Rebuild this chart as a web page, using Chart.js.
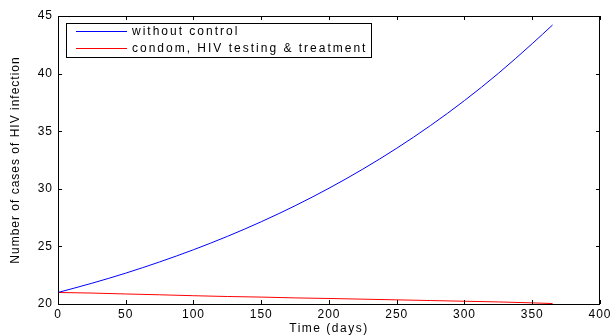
<!DOCTYPE html>
<html>
<head>
<meta charset="utf-8">
<script src="https://cdn.jsdelivr.net/npm/chart.js@4.4.1/dist/chart.umd.min.js"></script>
<style>
  html, body { margin: 0; padding: 0; background: #fff; }
  #wrap { width: 613px; height: 335px; }
</style>
</head>
<body>
<div id="wrap"><canvas id="hivChart" width="613" height="335"></canvas></div>
<script>
// time axis (days) and the two simulated trajectories
const days = [0, 25, 50, 75, 100, 125, 150, 175, 200, 225, 250, 275, 300, 325, 350, 365];
const withoutControl = [21.0, 21.8, 22.68, 23.65, 24.71, 25.87, 27.14, 28.53, 30.05, 31.71, 33.52, 35.5, 37.66, 40.02, 42.6, 44.22];
const withControl = [21.0, 20.95, 20.87, 20.8, 20.72, 20.65, 20.6, 20.53, 20.48, 20.42, 20.36, 20.3, 20.24, 20.18, 20.1, 20.04];

const xTickValues = [0, 50, 100, 150, 200, 250, 300, 350, 400];
const yTickValues = [20, 25, 30, 35, 40, 45];

const seriesLabels = ['without control', 'condom, HIV testing & treatment'];
const seriesColors = ['#0000ff', '#ff0000'];

const FONT = "'Liberation Sans', Arial, Helvetica, sans-serif";

function toPoints(ys) {
    return days.map((d, i) => ({ x: d, y: ys[i] }));
}

// box frame, inward tick marks, axis titles and the boxed legend (matlab look)
const matlabFrame = {
    id: 'matlabFrame',
    beforeDraw(chart) {
        chart.ctx.letterSpacing = '1px';
    },
    afterDraw(chart) {
        const ctx = chart.ctx;
        const a = chart.chartArea;
        const xs = chart.scales.x;
        const ys = chart.scales.y;
        ctx.save();
        ctx.strokeStyle = '#000';
        ctx.lineWidth = 1;
        ctx.strokeRect(a.left + 0.5, a.top + 0.5, a.right - a.left - 1, a.bottom - a.top);

        ctx.beginPath();
        xTickValues.forEach(v => {
            const px = Math.round(xs.getPixelForValue(v)) + 0.5;
            ctx.moveTo(px, a.bottom); ctx.lineTo(px, a.bottom - 4);
            ctx.moveTo(px, a.top); ctx.lineTo(px, a.top + 4);
        });
        yTickValues.forEach(v => {
            const py = Math.round(ys.getPixelForValue(v)) + 0.5;
            ctx.moveTo(a.left, py); ctx.lineTo(a.left + 4, py);
            ctx.moveTo(a.right, py); ctx.lineTo(a.right - 4, py);
        });
        ctx.stroke();

        // axis titles
        ctx.fillStyle = '#000';
        ctx.font = '12px ' + FONT;
        ctx.letterSpacing = '1.5px';
        ctx.textAlign = 'center';
        ctx.textBaseline = 'alphabetic';
        ctx.fillText('Time (days)', (a.left + a.right) / 2, 332);

        ctx.save();
        ctx.letterSpacing = '1px';
        ctx.translate(16, (a.top + a.bottom) / 2);
        ctx.rotate(-Math.PI / 2);
        ctx.textBaseline = 'middle';
        ctx.fillText('Number of cases of HIV infection', 0, 0);
        ctx.restore();

        // legend
        ctx.letterSpacing = '2px';
        ctx.font = '12px ' + FONT;
        const boxL = a.left + 8, boxT = a.top + 7;
        const textX = boxL + 66;
        let maxW = 0;
        seriesLabels.forEach(t => { maxW = Math.max(maxW, ctx.measureText(t).width); });
        const boxW = textX + maxW + 4 - boxL, boxH = 34;
        ctx.fillStyle = '#fff';
        ctx.fillRect(boxL, boxT, boxW, boxH);
        ctx.strokeRect(Math.round(boxL) + 0.5, Math.round(boxT) + 0.5, Math.round(boxW), boxH);
        seriesLabels.forEach((t, i) => {
            const rowY = boxT + 8 + i * 16.5;
            ctx.strokeStyle = seriesColors[i];
            ctx.beginPath();
            ctx.moveTo(boxL + 10, Math.round(rowY) + 0.5);
            ctx.lineTo(boxL + 61, Math.round(rowY) + 0.5);
            ctx.stroke();
            ctx.fillStyle = '#000';
            ctx.textAlign = 'left';
            ctx.textBaseline = 'middle';
            ctx.fillText(t, textX, rowY + 1);
        });
        ctx.restore();
    }
};

const ctx = document.getElementById('hivChart').getContext('2d');

const hivChart = new Chart(ctx, {
    type: 'line',
    data: {
        datasets: [
            {
                label: seriesLabels[0],
                data: toPoints(withoutControl),
                borderColor: seriesColors[0],
                borderWidth: 1,
                pointRadius: 0,
                fill: false,
                cubicInterpolationMode: 'monotone'
            },
            {
                label: seriesLabels[1],
                data: toPoints(withControl),
                borderColor: seriesColors[1],
                borderWidth: 1,
                pointRadius: 0,
                fill: false,
                cubicInterpolationMode: 'monotone'
            }
        ]
    },
    options: {
        responsive: false,
        animation: false,
        devicePixelRatio: 1,
        layout: { padding: { top: 16, right: 12, left: 0, bottom: 0 } },
        plugins: {
            legend: { display: false },
            tooltip: { enabled: false }
        },
        scales: {
            x: {
                type: 'linear',
                min: 0,
                max: 400,
                afterBuildTicks: s => { s.ticks = xTickValues.map(v => ({ value: v })); },
                afterFit: s => { s.height = 31; },
                grid: { display: false, drawTicks: false },
                border: { display: false },
                ticks: {
                    color: '#000',
                    padding: 3,
                    maxRotation: 0,
                    autoSkip: false,
                    font: { family: FONT, size: 12 }
                }
            },
            y: {
                type: 'linear',
                min: 20,
                max: 45,
                afterBuildTicks: s => { s.ticks = yTickValues.map(v => ({ value: v })); },
                afterFit: s => { s.width = 58; },
                grid: { display: false, drawTicks: false },
                border: { display: false },
                ticks: {
                    color: '#000',
                    padding: 5,
                    font: { family: FONT, size: 12 }
                }
            }
        }
    },
    plugins: [matlabFrame]
});
</script>
</body>
</html>
